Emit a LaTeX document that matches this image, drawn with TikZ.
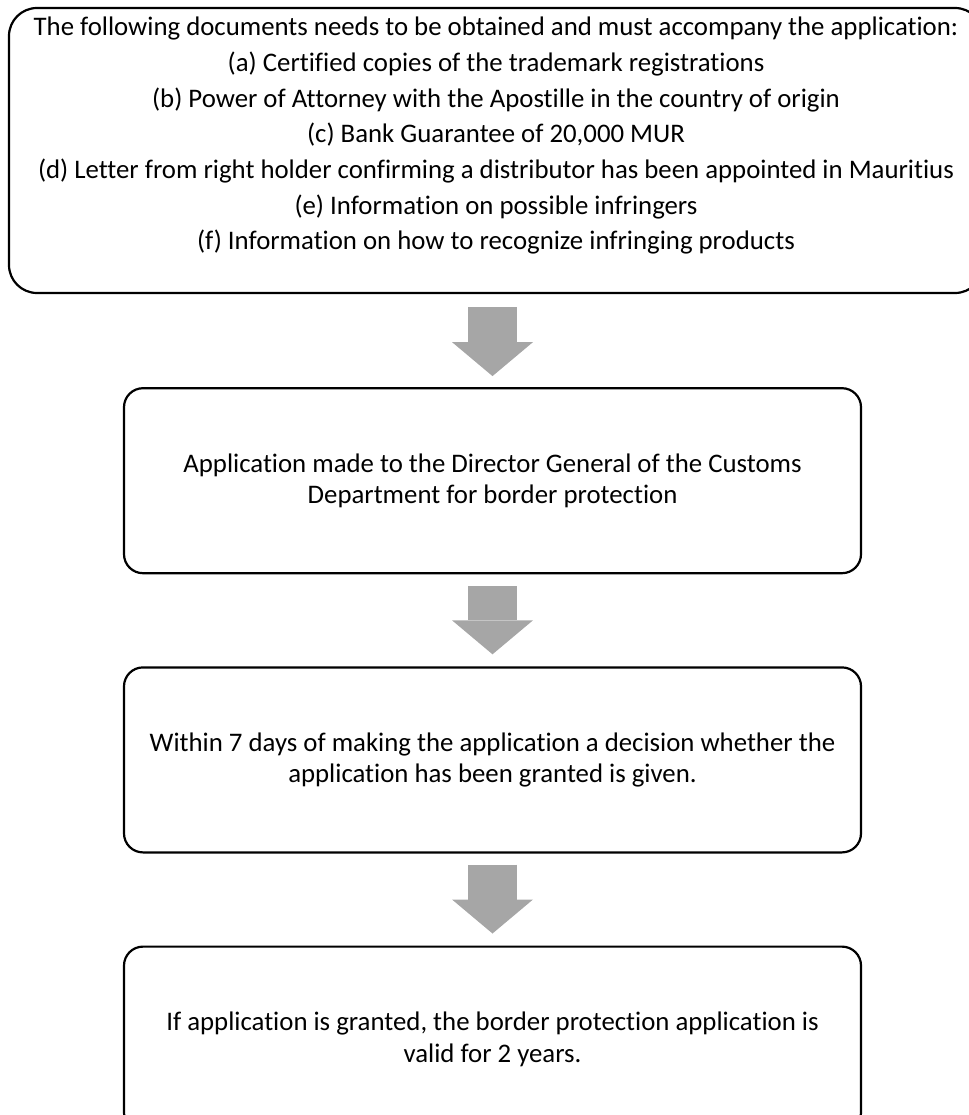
\documentclass[tikz,border=0pt]{standalone}
\usepackage{fontspec}
\setmainfont[Ligatures={NoCommon}]{Carlito}
\usetikzlibrary{arrows.meta,positioning}
\definecolor{arrgray}{HTML}{A6A6A6}

\begin{document}
\begin{tikzpicture}[x=1pt, y=1pt, every node/.style={font=\fontsize{26.8pt}{31.5pt}\selectfont}, box/.style={draw,line width=2.2pt,rounded corners=19pt,align=center,minimum width=737pt,minimum height=185pt,inner sep=0pt}, flow/.style={arrgray,line width=49pt,-{Triangle[width=81pt,length=34pt,line width=0pt]}}]
\useasboundingbox (0,0) rectangle (968,-1115);
\node[box,rounded corners=28pt,minimum width=974pt,minimum height=285pt,text depth=34pt,font=\fontsize{26.8pt}{35.7pt}\selectfont] (docs) at (496,-150.5) {The following documents needs to be obtained and must accompany the application:\\(a) Certified copies of the trademark registrations\\(b) Power of Attorney with the Apostille in the country of origin\\(c) Bank Guarantee of 20,000 MUR\\(d) Letter from right holder confirming a distributor has been appointed in Mauritius\\(e) Information on possible infringers\\(f) Information on how to recognize infringing products};
\node[box,below=93pt of docs,xshift=-3.5pt] (apply) {Application made to the Director General of the Customs\\Department for border protection};
\node[box,below=92pt of apply] (decide) {Within 7 days of making the application a decision whether the\\application has been granted is given.};
\node[box,below=92pt of decide] (valid) {If application is granted, the border protection application is\\valid for 2 years.};
\draw[flow] ([yshift=-13pt]apply.north |- docs.south) -- ([yshift=11pt]apply.north);
\draw[flow] ([yshift=-12pt]apply.south) -- ([yshift=12pt]decide.north);
\draw[flow] ([yshift=-11pt]decide.south) -- ([yshift=12pt]valid.north);
\end{tikzpicture}
\end{document}
